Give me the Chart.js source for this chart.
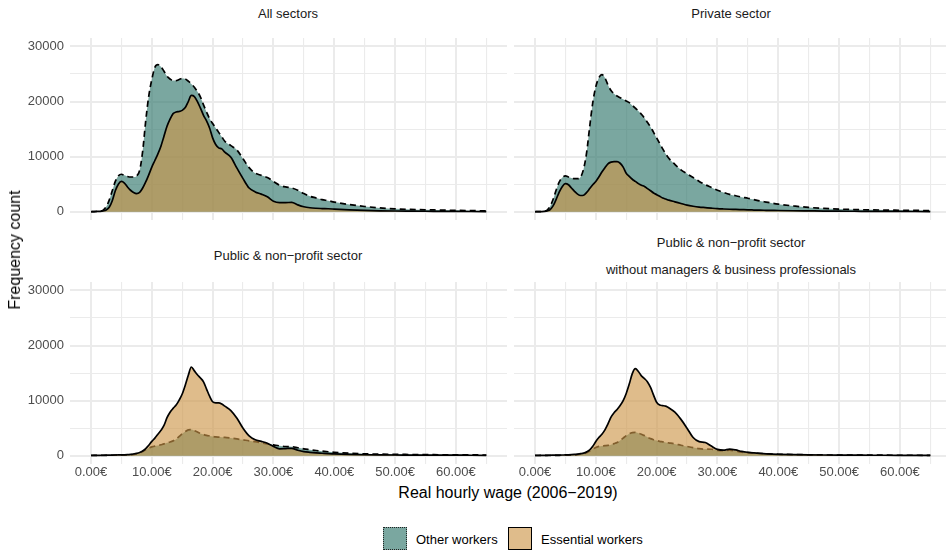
<!DOCTYPE html>
<html>
<head>
<meta charset="utf-8">
<script src="https://cdn.jsdelivr.net/npm/chart.js@4.4.1/dist/chart.umd.min.js"></script>
<style>
html, body { margin: 0; padding: 0; background: #fff; overflow: hidden; }
#wrap { position: relative; width: 946px; height: 552px; overflow: hidden;
        font-family: "Liberation Sans", Arial, Helvetica, sans-serif; }
#wrap canvas { position: absolute; }
.t { position: absolute; transform: translate(-50%, -50%); white-space: nowrap; line-height: 1; }
.strip { font-size: 13px; color: #1a1a1a; }
.axt { font-size: 16px; color: #000; }
.leg { position: absolute; font-size: 13px; color: #000; line-height: 1; transform: translateY(-50%); white-space: nowrap; }
.key { position: absolute; box-sizing: border-box; width: 24px; height: 23px; }
</style>
</head>
<body>
<div id="wrap">
  <canvas id="pAll" width="507" height="182" style="left:0;top:38px"></canvas>
  <canvas id="pPriv" width="437" height="182" style="left:514px;top:38px"></canvas>
  <canvas id="pPub" width="507" height="200" style="left:0;top:282px"></canvas>
  <canvas id="pPubNm" width="437" height="200" style="left:514px;top:282px"></canvas>

  <div class="t strip" style="left:288px;top:13px">All sectors</div>
  <div class="t strip" style="left:731px;top:13px">Private sector</div>
  <div class="t strip" style="left:288px;top:255px">Public &amp; non−profit sector</div>
  <div class="t strip" style="left:731px;top:242px">Public &amp; non−profit sector</div>
  <div class="t strip" style="left:731px;top:269px">without managers &amp; business professionals</div>

  <div class="t axt" style="left:15px;top:250px;transform:translate(-50%,-50%) rotate(-90deg)">Frequency count</div>
  <div class="t axt" style="left:508px;top:493px">Real hourly wage (2006−2019)</div>

  <div class="key" id="keyOther" style="left:383px;top:527px"></div>
  <div class="leg" style="left:416px;top:539px">Other workers</div>
  <div class="key" id="keyEss" style="left:508px;top:527px"></div>
  <div class="leg" style="left:541px;top:539px">Essential workers</div>
</div>

<script>
// Wage grid (euros) shared by every series
const wages = [
  0, 0.5, 1, 1.5, 2, 2.5, 3, 3.5, 4, 4.5,
  5, 5.5, 6, 6.5, 7, 7.5, 8, 8.5, 9, 9.5,
  10, 10.5, 11, 11.5, 12, 12.5, 13, 13.5, 14, 14.5,
  15, 15.5, 16, 16.5, 17, 17.5, 18, 18.5, 19, 19.5,
  20, 20.5, 21, 21.5, 22,
  23, 24, 25, 26, 27, 28, 29, 30, 31, 32,
  33, 34, 35, 36, 37, 38, 39, 40,
  42.5, 45, 47.5, 50, 52.5, 55, 57.5, 60, 62.5, 65
];

// All sectors
const allEssential = [
  0, 20, 50, 80, 150, 300, 800, 2000, 3800, 5000,
  5500, 5200, 4500, 3900, 3500, 3300, 3500, 4300, 5400, 6700,
  8100, 9300, 10500, 11900, 13700, 15500, 16800, 17800, 18100, 18200,
  18400, 18900, 20000, 21100, 20900, 20000, 18800, 17500, 16500, 15200,
  13400, 12200, 11600, 11400, 10800,
  9900, 7900, 6000, 4300, 3600, 3200, 2700, 1900, 1650, 1650,
  1700, 1250, 900, 720, 630, 580, 540, 480,
  330, 230, 170, 130, 105, 85, 70, 55, 45, 35
];
const allOther = [
  0, 20, 60, 120, 300, 900, 2100, 3800, 5500, 6500,
  6800, 6600, 6400, 6300, 6300, 6500, 7500, 11000, 16500, 21000,
  24000, 26200, 26700, 26300, 25500, 24600, 24100, 23800, 23800, 24000,
  24200, 24100, 23700, 23200, 22600, 21800, 20800, 19400, 18100, 16900,
  16000, 15200, 14400, 13600, 12800,
  12000, 11200, 9600, 8000, 7000, 6600, 6200, 5500, 4800, 4500,
  4300, 3900, 3300, 2800, 2500, 2200, 2000, 1750,
  1300, 950, 700, 530, 420, 350, 300, 250, 200, 160
];

// Private sector
const privateEssential = [
  0, 10, 30, 60, 150, 400, 1100, 2300, 3600, 4600,
  5100, 4900, 4300, 3700, 3200, 2950, 3000, 3500, 4200, 4900,
  5500, 6300, 7200, 8000, 8700, 9000, 9100, 9100, 8800, 8100,
  7000, 6400, 5900, 5500, 5100, 4800, 4600, 4200, 3800, 3400,
  3100, 2800, 2500, 2300, 2100,
  1800, 1500, 1200, 1000, 850, 750, 650, 560, 500, 450,
  420, 380, 340, 310, 280, 260, 240, 220,
  180, 150, 120, 100, 85, 70, 60, 50, 40, 35
];
const privateOther = [
  0, 10, 30, 80, 300, 1000, 2300, 4000, 5400, 6200,
  6500, 6300, 6100, 6000, 6000, 6300, 7800, 10800, 15500, 19800,
  22700, 24300, 24900, 24300, 23000, 22000, 21400, 21000, 20700, 20400,
  20100, 19800, 19300, 18800, 18300, 17700, 17000, 16200, 15400, 14400,
  13400, 12400, 11400, 10500, 9700,
  8600, 7600, 6900, 6200, 5500, 4900, 4400, 3900, 3500, 3150,
  2900, 2650, 2450, 2200, 1950, 1750, 1550, 1380,
  1050, 780, 600, 480, 400, 340, 300, 270, 240, 210
];

// Public & non-profit sector
const publicEssential = [
  50, 60, 70, 80, 90, 100, 110, 120, 130, 140,
  150, 170, 200, 250, 320, 420, 580, 850, 1300, 1900,
  2600, 3200, 3900, 4600, 5500, 6900, 7900, 8600, 9200, 10100,
  11200, 12800, 14600, 16100, 15400, 14700, 14100, 13400, 12100, 10800,
  9800, 9600, 9600, 9400, 9000,
  8200, 6800, 5000, 3600, 2900, 2600, 2250, 1700, 1250, 1300,
  1350, 1000, 750, 620, 520, 450, 380, 320,
  230, 180, 150, 130, 120, 110, 100, 100, 90, 80
];
const publicOther = [
  40, 50, 55, 60, 70, 75, 80, 90, 100, 110,
  120, 140, 160, 200, 260, 350, 500, 750, 1100, 1400,
  1600, 1750, 1850, 2000, 2150, 2350, 2500, 2700, 3000, 3500,
  4000, 4400, 4700, 4750, 4550, 4300, 4050, 3850, 3700, 3600,
  3500, 3420, 3380, 3350, 3320,
  3200, 3050, 2880, 2700, 2550, 2350, 2150, 1980, 1800, 1680,
  1650, 1450, 1250, 1100, 950, 830, 720, 620,
  450, 350, 290, 250, 220, 200, 180, 170, 150, 130
];

// Public & non-profit sector without managers & business professionals
const publicNoMgrEssential = [
  50, 55, 60, 70, 80, 90, 100, 110, 120, 130,
  140, 160, 190, 230, 290, 370, 480, 700, 1050, 1700,
  2600, 3300, 3900, 4700, 5800, 7000, 7800, 8400, 9100, 10000,
  11300, 13000, 14900, 15800, 15300, 14500, 14000, 13400, 12400, 11000,
  9700, 9200, 9100, 9000, 8700,
  7900, 6600, 5000, 3300, 2550, 2400, 1750, 1150, 1000, 1200,
  1050, 780, 620, 510, 420, 350, 300, 260,
  200, 160, 130, 110, 100, 90, 85, 80, 75, 70
];
const publicNoMgrOther = [
  40, 45, 50, 55, 60, 65, 70, 75, 80, 90,
  100, 110, 130, 160, 200, 270, 380, 550, 850, 1200,
  1500, 1700, 1780, 1820, 1870, 2000, 2200, 2400, 2750, 3200,
  3650, 4000, 4200, 4250, 4100, 3900, 3650, 3350, 3100, 2900,
  2750, 2620, 2520, 2420, 2330,
  2150, 1900, 1680, 1480, 1280, 1200, 1180, 980, 900, 1000,
  850, 650, 550, 480, 410, 360, 310, 270,
  210, 170, 140, 120, 110, 100, 95, 90, 85, 80
];

// Axis breaks
const xTicks = [0, 5, 10, 15, 20, 25, 30, 35, 40, 45, 50, 55, 60, 65];
const xMajor = [0, 10, 20, 30, 40, 50, 60];
const yTicks = [0, 5000, 10000, 15000, 20000, 25000, 30000];
const yMajor = [0, 10000, 20000, 30000];

const OTHER_FILL = 'rgba(45,115,104,0.63)';
const ESS_FILL = 'rgba(204,149,72,0.63)';
const GRID = '#ebebeb';
const TICK_FONT = { family: '"Liberation Sans", Arial, sans-serif', size: 13 };

document.getElementById('keyOther').style.cssText +=
  ';background:' + OTHER_FILL + ';border:1.5px dotted #222';
document.getElementById('keyEss').style.cssText +=
  ';background:' + ESS_FILL + ';border:1.5px solid #000';

function toPoints(series) {
  return wages.map((w, i) => ({ x: w, y: series[i] }));
}

// keep the panel exactly the size of its canvas minus the fixed axis band
function noPadding(s) {
  s.paddingTop = 0;
  s.paddingBottom = 0;
  s.paddingLeft = 0;
  s.paddingRight = 0;
}

function facet(id, essential, other, showY, showX) {
  const ctx = document.getElementById(id);
  new Chart(ctx, {
    type: 'line',
    data: {
      datasets: [
        {
          label: 'Essential workers',
          data: toPoints(essential),
          order: 0,
          borderColor: '#000',
          borderWidth: 1.7,
          backgroundColor: ESS_FILL,
          fill: 'origin',
          pointRadius: 0,
          cubicInterpolationMode: 'monotone'
        },
        {
          label: 'Other workers',
          data: toPoints(other),
          order: 1,
          borderColor: '#000',
          borderWidth: 1.7,
          borderDash: [6, 4],
          backgroundColor: OTHER_FILL,
          fill: 'origin',
          pointRadius: 0,
          cubicInterpolationMode: 'monotone'
        }
      ]
    },
    options: {
      responsive: false,
      animation: false,
      devicePixelRatio: 1,
      layout: { padding: 0, autoPadding: false },
      plugins: { legend: { display: false }, tooltip: { enabled: false } },
      scales: {
        x: {
          type: 'linear',
          min: -3.45,
          max: 68.4,
          afterBuildTicks: s => { s.ticks = xTicks.map(v => ({ value: v })); },
          afterFit: s => { s.height = showX ? 18 : 0; noPadding(s); },
          border: { display: false },
          grid: {
            color: GRID,
            drawTicks: false,
            lineWidth: c => (xMajor.includes(c.tick.value) ? 2 : 1.1)
          },
          ticks: {
            display: showX,
            autoSkip: false,
            maxRotation: 0,
            padding: 1,
            color: '#4d4d4d',
            font: TICK_FONT,
            callback: v => (xMajor.includes(v) ? v.toFixed(2) + '€' : '')
          }
        },
        y: {
          type: 'linear',
          min: -1500,
          max: 31530,
          afterBuildTicks: s => { s.ticks = yTicks.map(v => ({ value: v })); },
          afterFit: s => { s.width = showY ? 70 : 0; noPadding(s); },
          border: { display: false },
          grid: {
            color: GRID,
            drawTicks: false,
            lineWidth: c => (yMajor.includes(c.tick.value) ? 2 : 1.1)
          },
          ticks: {
            display: showY,
            autoSkip: false,
            padding: 6,
            color: '#4d4d4d',
            font: TICK_FONT,
            callback: v => (yMajor.includes(v) ? String(v) : '')
          }
        }
      }
    }
  });
}

facet('pAll', allEssential, allOther, true, false);
facet('pPriv', privateEssential, privateOther, false, false);
facet('pPub', publicEssential, publicOther, true, true);
facet('pPubNm', publicNoMgrEssential, publicNoMgrOther, false, true);
</script>
</body>
</html>
